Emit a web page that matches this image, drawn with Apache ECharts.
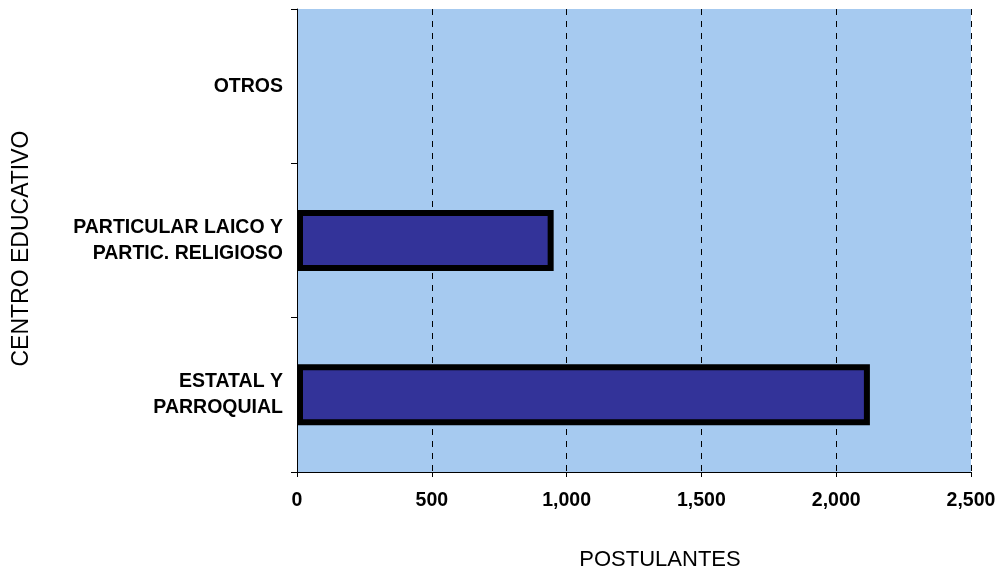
<!DOCTYPE html>
<html><head><meta charset="utf-8">
<script src="https://cdn.jsdelivr.net/npm/echarts@6/dist/echarts.min.js"></script>
<style>html,body{margin:0;padding:0;background:#fff}#c{width:998px;height:571px}</style>
</head><body><div id="c"></div>
<script>
const categories = ['ESTATAL Y\nPARROQUIAL', 'PARTICULAR LAICO Y\nPARTIC. RELIGIOSO', 'OTROS'];
const postulantes = [2125, 952, 0];
const xTicks = [0, 500, 1000, 1500, 2000, 2500];

const FONT = 'Liberation Sans, Arial, sans-serif';
const chart = echarts.init(document.getElementById('c'));
chart.setOption({
  animation: false,
  textStyle: {fontFamily: FONT},
  grid: {left: 297, right: 27, top: 9, bottom: 99, show: true, backgroundColor: '#A6CAF0', borderWidth: 0,
    containLabel: false, outerBoundsMode: 'none'},
  xAxis: {
    type: 'value', min: xTicks[0], max: xTicks[xTicks.length - 1], interval: 500,
    name: 'POSTULANTES', nameLocation: 'middle', nameGap: 77,
    nameTextStyle: {fontSize: 22, color: '#000', fontFamily: FONT, padding: [0, 0, 0, 52]},
    axisLine: {show: true, lineStyle: {color: '#000', width: 1}},
    axisTick: {show: true, length: 5, lineStyle: {color: '#000'}},
    axisLabel: {fontSize: 19.5, fontWeight: 'bold', color: '#000', margin: 19,
      formatter: v => v.toLocaleString('en-US')},
    splitLine: {show: true, lineStyle: {color: '#000', type: [6, 6], width: 1}}
  },
  yAxis: {
    type: 'category', data: categories,
    name: 'CENTRO EDUCATIVO', nameLocation: 'middle', nameGap: 264, nameRotate: 90,
    nameTextStyle: {fontSize: 23, color: '#000', fontFamily: FONT, padding: [0, 16, 0, 0]},
    axisLine: {show: true, lineStyle: {color: '#000', width: 1}},
    axisTick: {show: true, length: 6, lineStyle: {color: '#000'}},
    axisLabel: {fontSize: 19.5, fontWeight: 'bold', color: '#000', margin: 14, lineHeight: 26, align: 'right'},
    splitLine: {show: false}
  },
  series: [{
    type: 'bar',
    data: postulantes.map(v => v === 0 ? {value: v, itemStyle: {borderWidth: 0}} : v),
    barWidth: 61,
    itemStyle: {color: '#333399', borderColor: '#000', borderWidth: 6}
  }]
});
</script></body></html>
